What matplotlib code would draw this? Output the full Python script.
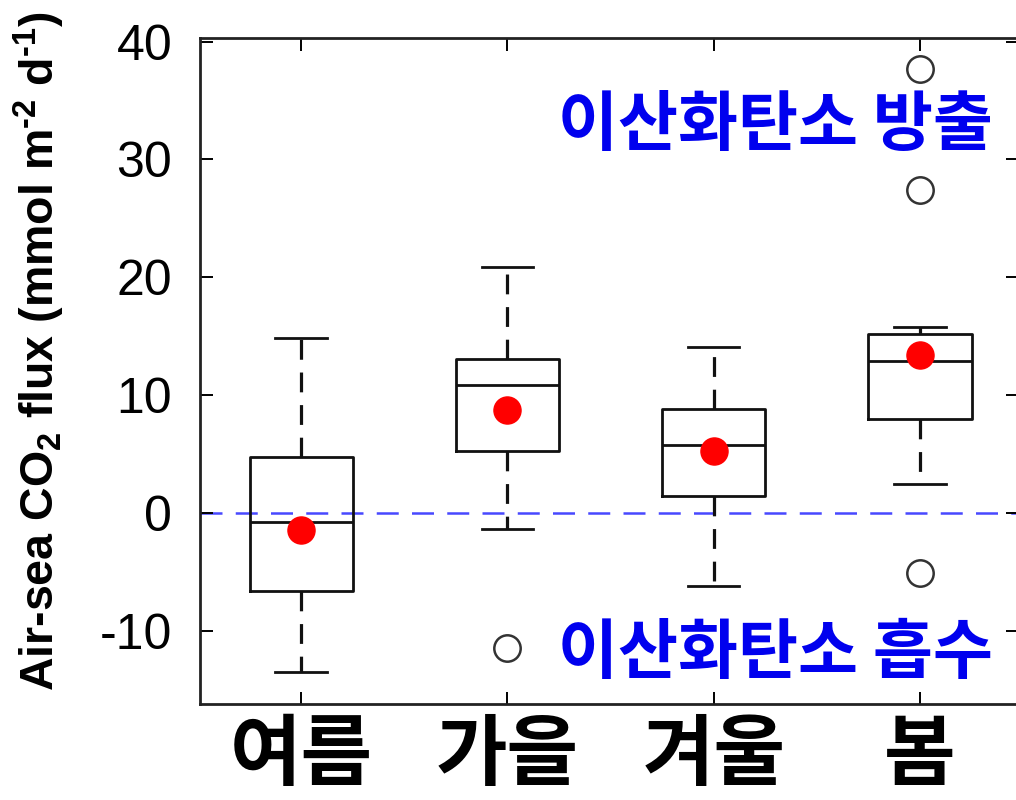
import matplotlib
matplotlib.use("Agg")
import matplotlib.pyplot as plt

plt.rcParams['font.family'] = ['Liberation Sans', 'Noto Sans CJK KR', 'DejaVu Sans']
plt.rcParams['mathtext.fontset'] = 'custom'
plt.rcParams['mathtext.rm'] = 'Liberation Sans'
plt.rcParams['mathtext.bf'] = 'Liberation Sans:bold'
plt.rcParams['mathtext.it'] = 'Liberation Sans:italic'

seasons = ["여름", "가을", "겨울", "봄"]
whislo = [-13.5, -1.35, -6.2, 2.45]
q1 = [-6.6, 5.3, 1.47, 7.97]
med = [-0.74, 10.9, 5.76, 12.9]
q3 = [4.77, 13.05, 8.87, 15.23]
whishi = [14.86, 20.85, 14.1, 15.8]
means = [-1.44, 8.73, 5.25, 13.39]
fliers = [[], [-11.47], [], [-5.1, 27.37, 37.7]]

label_emit = "이산화탄소 방출"
label_absorb = "이산화탄소 흡수"
ylabel = "Air-sea CO$_\\mathbf{2}$ flux (mmol m$^\\mathbf{\u2010 2}$ d$^\\mathbf{\u2010 1}$)"
yticks = [-10, 0, 10, 20, 30, 40]

fig = plt.figure(figsize=(10.16, 8.0), dpi=100)
ax = fig.add_axes([200/1016, 1-704/800, (1018-200)/1016, (704-37.5)/800])

stats = []
for i in range(len(seasons)):
    stats.append(dict(med=med[i], q1=q1[i], q3=q3[i], whislo=whislo[i],
                      whishi=whishi[i], fliers=fliers[i], label=seasons[i]))

positions = list(range(1, len(seasons)+1))
lw = 2.0
ax.bxp(stats, positions=positions, widths=0.5, showfliers=True,
       boxprops=dict(color='#111111', linewidth=lw),
       medianprops=dict(color='#111111', linewidth=lw),
       whiskerprops=dict(color='#111111', linewidth=2.3, linestyle=(0, (6.2, 4))),
       capprops=dict(color='#111111', linewidth=lw),
       flierprops=dict(marker='o', markersize=19, markerfacecolor='white',
                       markeredgecolor='#333333', markeredgewidth=1.8))

ax.plot(positions, means, 'o', color='red', markersize=19.5, zorder=5)
ax.axhline(0, color='#4848ff', linewidth=1.8, linestyle=(0, (8.8, 5.3)), zorder=1)

ax.set_xlim(0.51, 4.475)
ax.set_ylim(-16.2, 40.35)
ax.set_yticks(yticks)
ax.set_yticklabels([str(v) for v in yticks], fontsize=36)
ax.set_xticks(positions)
ax.set_xticklabels(seasons, fontsize=56, fontweight='bold',
                   family=['Noto Sans CJK KR'])
ax.tick_params(direction='in', length=9, width=1.4, top=True, right=True)
ax.tick_params(axis='x', pad=9)
ax.tick_params(axis='y', pad=20)
for s in ax.spines.values():
    s.set_linewidth(2.0)
    s.set_color('#222222')

ax.set_ylabel(ylabel, fontsize=33.5, fontweight='bold')
ax.yaxis.set_label_coords(-0.163, 0.53)

ax.text(4.354, 32.9, label_emit, color='#0000ee', fontsize=47, fontweight='bold',
        ha='right', va='center', family=['Noto Sans CJK KR'])
ax.text(4.354, -11.9, label_absorb, color='#0000ee', fontsize=47, fontweight='bold',
        ha='right', va='center', family=['Noto Sans CJK KR'])

fig.savefig("out.png", dpi=100)
